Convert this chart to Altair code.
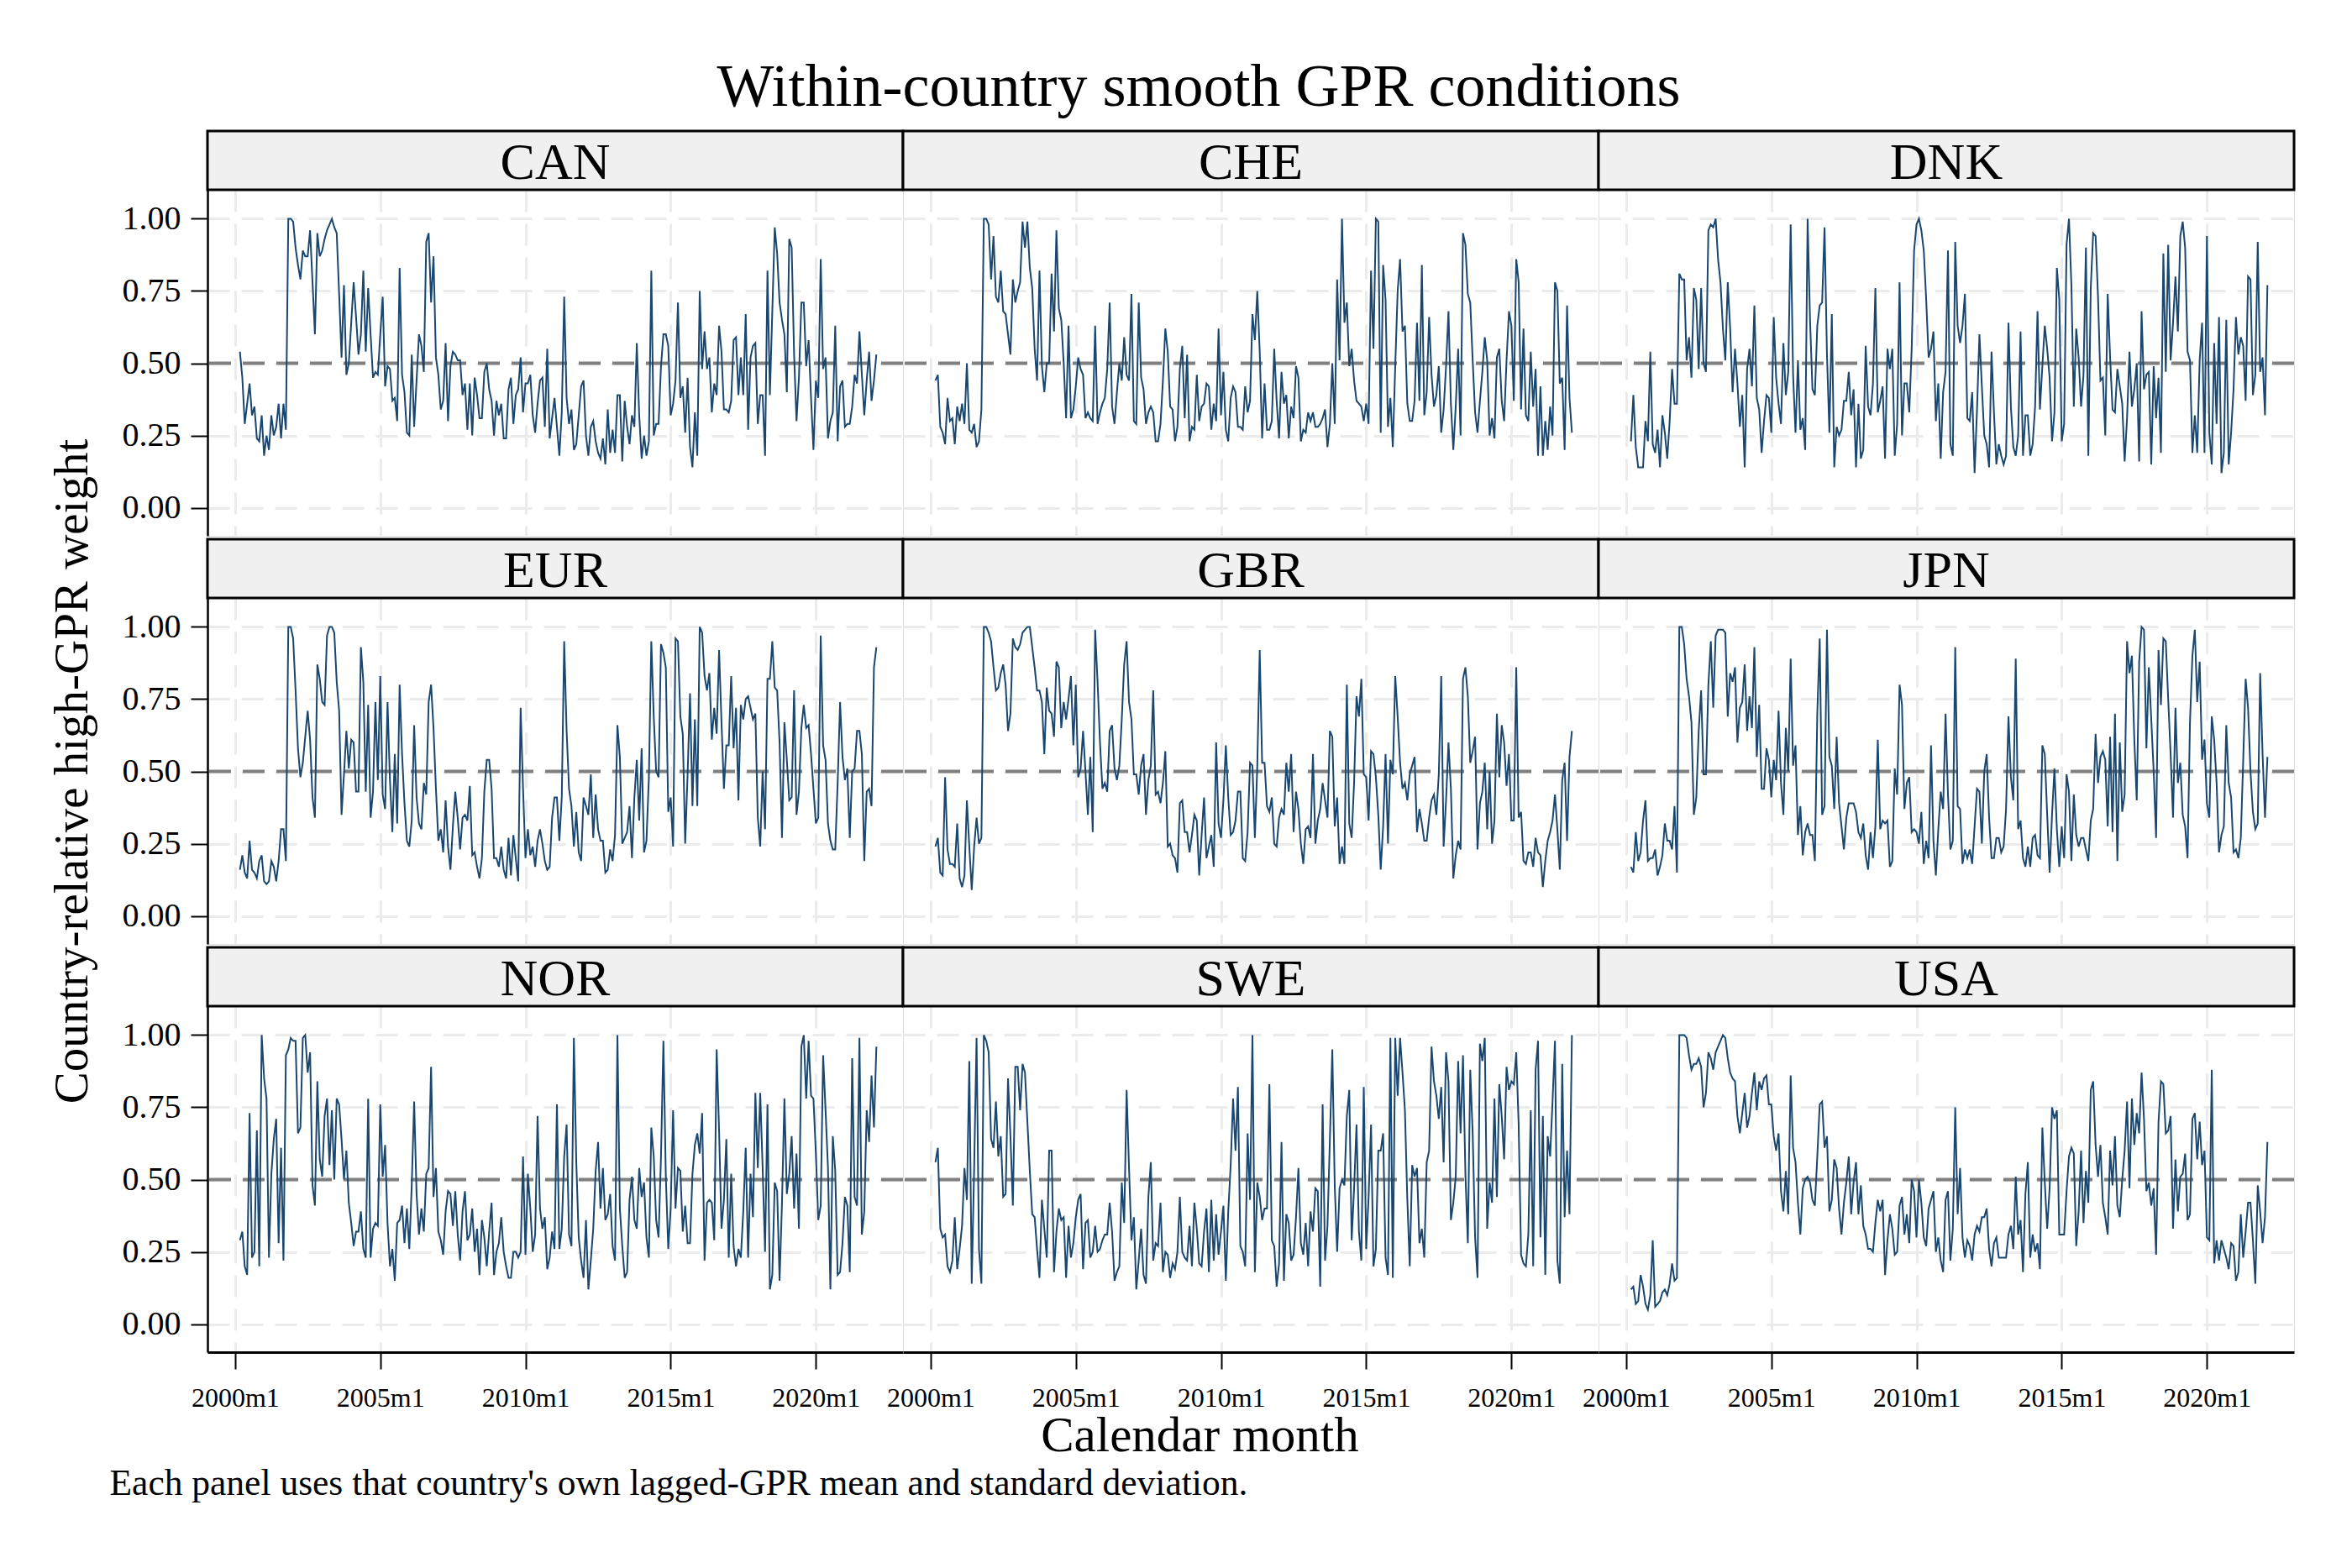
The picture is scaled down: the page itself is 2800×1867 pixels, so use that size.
import altair as alt
import pandas as pd

TITLE = "Within-country smooth GPR conditions"
YTITLE = "Country-relative high-GPR weight"
XTITLE = "Calendar month"
CAPTION = "Each panel uses that country's own lagged-GPR mean and standard deviation."

COUNTRIES = ["CAN", "CHE", "DNK", "EUR", "GBR", "JPN", "NOR", "SWE", "USA"]
START_YEAR = 2000
START_MONTH = 3
TICK_YEARS = [2000, 2005, 2010, 2015, 2020]
Y_TICKS = [0, 0.25, 0.5, 0.75, 1.0]
REF = 0.5

# weights in percent, monthly from 2000m3
CAN = [54,45,29,36,43,32,35,24,23,32,18,25,20,32,25,28,36,24,36,27,
100,100,99,90,84,79,89,87,87,96,78,60,95,87,89,93,96,98,100,97,95,
74,52,77,46,50,64,78,66,53,60,82,54,76,60,45,47,46,60,73,42,49,48,37,38,30,83,46,40,26,25,53,28,44,60,56,47,92,95,71,87,52,46,34,37,57,30,49,54,53,51,51,39,43,27,43,25,45,39,31,31,47,50,41,37,25,37,32,36,24,24,41,45,29,39,41,52,33,43,43,46,32,26,36,44,45,28,55,24,31,38,28,18,33,73,38,29,34,20,22,32,42,44,25,18,28,30,23,19,17,24,15,34,19,27,19,39,39,16,37,28,22,32,28,57,32,17,25,18,23,82,25,29,29,49,60,60,56,32,36,44,71,38,42,26,45,21,14,33,18,75,48,61,48,52,33,43,39,63,54,34,34,33,37,58,59,39,52,39,67,27,52,56,57,29,39,39,18,82,39,68,97,88,71,65,60,40,93,90,53,30,45,71,71,49,58,38,20,44,38,86,48,52,24,30,33,63,23,42,44,28,29,29,35,46,43,61,46,32,44,54,37,44,53]
CHE = [44,46,28,26,22,38,30,31,22,35,30,36,29,50,27,26,29,21,23,34,
100,100,98,79,94,73,71,82,68,67,60,53,79,71,75,78,99,90,99,83,76,55,44,82,49,40,50,50,81,61,96,69,65,50,31,63,31,34,42,52,48,46,31,33,31,30,63,29,33,36,38,48,71,35,29,40,50,44,59,46,44,74,30,29,71,45,41,29,33,35,33,23,23,29,44,62,54,35,34,23,28,48,56,31,53,23,28,27,46,30,35,36,43,42,27,36,30,62,32,47,27,23,38,42,40,28,28,27,42,33,37,67,58,75,54,24,43,27,27,30,55,37,24,47,36,39,24,35,31,49,45,23,27,26,33,30,33,28,28,29,31,34,21,29,50,29,79,51,100,64,71,49,55,44,37,36,35,30,36,29,82,55,100,99,26,84,72,28,38,21,49,75,86,61,63,36,30,30,37,64,37,84,32,40,66,46,35,39,49,26,34,49,68,36,20,35,55,25,95,91,74,71,51,33,26,37,47,59,51,25,31,24,52,55,37,30,51,68,63,37,86,78,34,62,32,30,54,35,48,18,42,18,30,20,35,25,78,75,43,45,20,70,38,26]
DNK = [23,39,21,14,14,14,30,23,54,22,19,27,14,32,26,17,30,48,36,36,81,79,79,51,59,45,76,72,48,76,50,47,96,98,97,100,86,78,62,51,78,62,40,55,43,28,39,14,48,55,42,70,38,34,19,30,39,38,26,66,45,36,29,57,39,47,98,46,26,51,27,31,20,100,65,41,39,63,70,71,97,53,26,67,14,28,25,27,37,37,47,32,41,14,36,17,20,56,35,32,43,76,33,37,42,17,55,48,55,18,29,78,25,43,43,33,55,89,98,100,96,89,72,52,55,61,30,43,17,40,47,89,22,18,92,63,57,63,74,31,30,40,12,34,60,42,25,22,14,54,33,15,22,18,15,18,64,35,21,18,25,61,18,32,32,18,22,35,68,34,49,63,55,45,23,33,83,72,23,29,91,100,77,35,62,52,35,46,90,18,76,95,94,73,44,45,25,74,52,34,33,48,42,36,16,31,54,35,41,50,16,68,41,46,47,15,49,31,45,19,88,47,91,51,64,80,61,94,99,90,54,51,19,32,19,51,64,19,94,26,15,57,29,66,12,19,65,15,26,41,66,53,59,56,37,80,79,39,46,92,47,52,32,77]
EUR = [16,21,15,13,26,16,15,13,19,21,12,11,12,19,17,12,19,30,30,19,
100,100,96,78,58,48,53,62,71,61,41,34,87,82,74,73,97,100,100,98,81,71,35,49,64,51,61,60,43,43,93,81,43,73,34,43,74,47,83,42,37,74,47,29,56,32,80,56,39,26,24,33,66,41,32,30,46,42,74,80,65,44,26,30,22,40,24,16,31,43,34,23,34,35,33,45,21,22,17,13,20,43,54,54,44,20,20,17,24,16,13,27,14,28,20,12,72,44,20,30,21,24,17,26,30,25,19,16,17,34,41,41,26,41,95,64,44,38,24,36,22,19,41,38,35,49,27,42,30,26,26,15,16,23,19,28,66,55,25,27,29,38,20,41,54,33,58,22,26,48,95,69,50,48,94,91,86,36,41,24,96,95,69,63,25,49,77,38,68,38,100,98,83,78,84,61,72,63,92,67,44,59,59,83,58,72,40,73,68,75,76,72,68,70,34,24,50,30,82,82,95,79,78,60,27,67,54,40,41,78,35,43,65,73,65,66,56,44,32,34,97,59,54,32,26,23,23,46,74,55,47,51,27,50,51,64,64,56,19,43,44,38,86,93]
GBR = [24,27,15,14,48,23,18,18,17,32,13,10,14,40,24,9,24,34,25,27,
100,100,98,95,86,78,79,84,87,80,64,70,96,93,92,94,98,99,100,100,93,86,78,78,74,56,79,71,70,62,88,86,65,74,68,75,83,59,80,48,51,64,50,35,55,29,99,81,60,44,46,43,64,66,51,47,52,68,87,95,74,68,49,49,42,52,56,35,47,52,78,42,43,39,46,57,24,25,21,20,15,39,40,29,29,22,28,35,33,14,28,41,20,24,28,17,60,32,27,40,59,41,28,29,33,43,43,20,19,29,53,52,27,52,92,53,53,38,36,41,25,24,34,37,35,53,43,56,29,43,37,25,18,30,31,27,56,25,33,37,46,40,34,64,62,31,41,18,24,18,80,32,27,46,76,69,82,49,48,33,57,56,48,35,16,31,56,25,54,49,83,69,53,44,46,40,49,52,55,29,37,32,26,26,34,40,42,35,49,83,24,40,60,44,13,21,26,23,82,86,76,53,57,62,23,39,43,53,30,50,25,33,70,48,66,60,45,56,33,33,86,34,36,19,18,22,22,17,27,22,21,10,19,26,29,33,42,30,16,47,53,26,55,64]
JPN = [17,15,29,19,22,33,40,19,20,20,23,14,17,21,32,26,26,23,38,15,
100,100,94,82,76,67,35,41,64,78,49,49,80,95,72,97,99,99,99,98,69,84,81,86,60,72,74,87,64,76,65,93,55,73,44,44,58,54,41,54,47,71,46,35,65,50,89,52,59,28,38,21,29,32,28,28,19,70,96,35,38,99,55,52,37,62,39,31,23,34,39,39,39,36,29,27,32,21,16,29,20,31,61,30,33,32,33,17,19,51,42,80,73,37,46,48,29,30,29,25,36,18,26,20,59,26,14,30,43,37,70,42,23,26,93,38,37,18,23,20,23,18,31,44,43,25,50,56,34,20,20,27,27,22,24,37,69,48,40,89,30,33,20,17,24,17,27,28,21,20,59,56,35,15,35,51,30,17,31,20,49,43,19,42,28,24,27,27,23,19,33,37,63,46,55,57,54,31,62,29,70,19,60,36,42,95,84,90,61,40,88,100,99,58,86,68,50,27,92,73,96,95,75,56,34,72,46,53,35,31,20,67,90,99,74,88,54,61,39,34,69,61,46,22,28,31,66,46,41,22,23,20,27,54,82,72,50,36,30,32,84,56,34,55]
NOR = [29,32,20,17,73,23,25,67,20,100,85,78,23,52,64,71,28,61,22,93,95,99,98,98,66,68,99,100,87,94,48,41,84,57,51,72,78,55,74,50,78,76,64,50,60,42,35,27,32,32,39,26,23,78,23,33,35,34,76,51,62,35,20,26,15,35,36,41,28,40,26,48,77,45,31,40,32,52,54,89,44,54,32,29,24,39,46,45,34,46,31,22,39,46,29,31,40,25,33,17,36,30,20,32,42,17,25,28,37,25,20,16,16,25,25,23,25,58,24,52,40,25,31,72,40,33,37,19,23,32,26,76,26,33,58,69,31,27,99,56,30,22,16,36,12,22,33,53,63,40,54,36,38,45,27,22,100,40,27,16,18,43,51,36,33,54,44,49,30,23,68,58,36,30,58,98,51,26,40,74,40,54,53,32,41,28,28,52,62,66,59,73,22,42,43,42,29,95,67,33,43,64,23,52,27,20,26,23,39,61,23,52,37,80,54,80,54,25,76,12,17,49,46,15,42,78,45,52,65,40,59,33,96,100,78,98,79,78,59,36,41,93,74,54,12,65,53,17,18,28,44,41,18,92,44,41,99,31,39,74,63,86,68,96]
SWE = [56,61,33,30,31,20,18,22,37,19,26,34,54,43,91,14,54,99,26,14,100,98,94,64,61,77,58,65,44,45,85,65,41,89,89,74,90,87,70,53,38,37,26,16,43,33,23,60,60,18,32,40,36,37,16,34,23,28,37,43,45,19,35,36,23,25,34,25,26,29,31,31,42,32,15,18,20,49,35,81,54,29,37,12,22,33,17,14,44,56,22,28,27,42,18,25,24,16,21,19,25,44,25,23,22,34,20,42,33,21,20,32,40,18,43,22,38,24,32,41,15,39,55,78,60,82,27,25,20,66,43,100,18,49,44,36,40,40,83,29,27,13,21,63,15,38,35,22,24,37,54,28,24,35,20,39,32,47,46,13,76,22,34,64,95,48,25,47,50,48,72,81,29,47,69,32,22,82,26,44,69,20,26,60,60,66,23,17,99,16,99,79,99,87,74,43,20,55,51,54,28,33,23,56,60,96,84,79,71,82,56,94,84,36,42,51,91,66,93,52,28,88,66,30,16,97,91,99,33,49,42,78,44,83,72,57,89,81,84,83,94,69,24,21,20,31,74,20,88,98,30,72,17,65,58,77,98,22,14,90,37,60,38,100]
USA = [12,13,7,8,17,13,7,5,10,29,6,7,8,11,12,10,14,21,15,16,100,100,100,99,93,88,90,90,92,89,75,80,94,92,88,94,96,98,100,99,92,87,85,84,72,66,73,80,68,72,80,87,74,84,81,85,86,76,76,65,60,66,46,39,53,38,86,61,56,42,31,47,50,51,49,43,41,58,76,77,61,65,39,43,57,54,40,31,42,49,58,38,49,56,38,48,34,31,26,26,25,35,43,39,43,17,29,38,33,24,25,41,44,31,38,28,50,46,30,50,42,30,27,40,43,46,25,30,22,18,43,46,22,33,75,38,54,30,23,29,27,22,31,34,32,37,37,40,26,20,28,30,23,23,23,23,31,34,26,51,31,36,18,45,56,23,31,25,28,19,68,49,33,47,75,71,74,31,31,31,46,58,61,59,27,39,60,35,53,42,81,84,62,51,62,42,37,31,60,48,65,41,37,50,60,77,47,78,62,73,66,87,71,46,49,41,47,24,70,84,83,66,67,72,33,57,39,51,52,59,36,38,71,73,57,70,55,60,30,29,88,21,29,22,29,26,23,19,28,27,15,18,38,23,32,42,42,29,14,48,39,28,37,63]

SERIES = {"CAN": CAN, "CHE": CHE, "DNK": DNK, "EUR": EUR, "GBR": GBR,
          "JPN": JPN, "NOR": NOR, "SWE": SWE, "USA": USA}

records = []
for c in COUNTRIES:
    for i, v in enumerate(SERIES[c]):
        m = START_MONTH - 1 + i
        records.append({"country": c, "t": START_YEAR + m / 12.0, "w": v / 100.0})
df = pd.DataFrame(records)

FONT = "Liberation Serif"
NAVY = "#1a476f"
GRID = "#ebebeb"
STRIP_FILL = "#f0f0f0"
W, PH, SH = 828, 412, 70
XDOM = [1999.05, 2023.0]
YDOM = [-0.097, 1.10]


def make_panel(c, r, k):
    d = df[df.country == c]
    is_left = k == 0
    is_bottom = r == 2
    xa = dict(values=TICK_YEARS, grid=True, gridColor=GRID, gridDash=[26, 14], gridWidth=3,
              labelFlush=False, labels=is_bottom, ticks=is_bottom, domain=is_bottom)
    if is_bottom:
        xa.update(labelExpr="datum.value + 'm1'", labelFontSize=32, labelPadding=19,
                  labelFont=FONT, labelColor="black", tickSize=20, tickWidth=2,
                  tickColor="black", domainColor="black", domainWidth=3)
    if c == "SWE":
        xa.update(title=XTITLE, titleFontSize=59, titleFont=FONT, titleFontWeight="normal",
                  titlePadding=0, titleX=353, titleColor="black")
    else:
        xa["title"] = None
    ya = dict(values=Y_TICKS, grid=True, gridColor=GRID, gridDash=[26, 14], gridWidth=3,
              labels=is_left, ticks=is_left, domain=is_left)
    if is_left:
        ya.update(format=".2f", labelFontSize=40, labelPadding=12, labelFont=FONT,
                  labelColor="black", tickSize=20, tickWidth=2, tickColor="black",
                  domainColor="black", domainWidth=2.5)
    if c == "EUR":
        ya.update(title=YTITLE, titleFontSize=57, titleFont=FONT, titleFontWeight="normal",
                  titlePadding=30, titleColor="black")
    else:
        ya["title"] = None
    xenc = alt.X("t:Q", scale=alt.Scale(domain=XDOM, nice=False, zero=False), axis=alt.Axis(**xa))
    yenc = alt.Y("w:Q", scale=alt.Scale(domain=YDOM, nice=False, zero=False), axis=alt.Axis(**ya))
    ref = alt.Chart(pd.DataFrame({"w": [REF]})).mark_rule(
        color="#808080", strokeWidth=4, strokeDash=[26, 14]).encode(y=yenc)
    line = alt.Chart(d).mark_line(color=NAVY, strokeWidth=2).encode(x=xenc, y=yenc)

    sdf = pd.DataFrame({"country": [c]})
    box = alt.Chart(sdf).mark_rect(fill=STRIP_FILL, stroke="black", strokeWidth=3).encode(
        x=alt.value(0), x2=alt.value(W), y=alt.value(-SH), y2=alt.value(0))
    lab = alt.Chart(sdf).mark_text(font=FONT, fontSize=62, color="black", align="center",
                                   baseline="middle").encode(
        x=alt.value(W / 2), y=alt.value(-SH / 2 + 3), text="country:N")
    return alt.layer(ref, line, box, lab).properties(width=W, height=PH)


panels = []
for r in range(3):
    for k in range(3):
        panels.append(make_panel(COUNTRIES[r * 3 + k], r, k))

grid = alt.concat(*panels, columns=3, spacing={"row": SH + 4, "column": 0},
                  bounds="flush").properties(
    title=alt.TitleParams(CAPTION, orient="bottom", anchor="start", fontSize=43.5, font=FONT,
                          fontWeight="normal", color="black", dx=74, offset=6))

chart = alt.vconcat(grid, spacing=0).properties(
    title=alt.TitleParams(TITLE, anchor="middle", fontSize=72, font=FONT, fontWeight="normal",
                          color="black", dx=32, offset=13),
    padding={"left": 48, "top": 60, "right": 5, "bottom": 5},
    background="white",
).configure_view(stroke=None).configure(font=FONT)

chart.save("out.html", embed_options={"renderer": "svg", "actions": False})
